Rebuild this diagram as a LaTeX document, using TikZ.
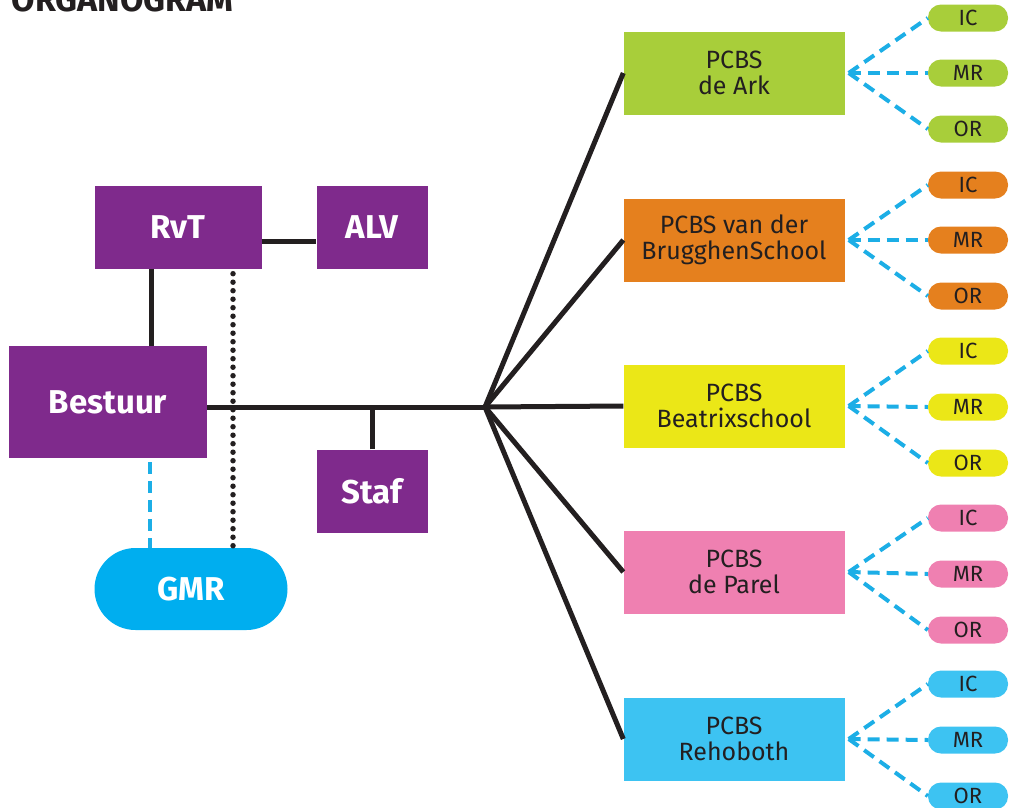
\documentclass[tikz,border=0pt]{standalone}
\usepackage{fontspec}
\setmainfont{Fira Sans}

\definecolor{orgpurple}{HTML}{7F2A8C}
\definecolor{gmrblue}{HTML}{00AEEF}
\definecolor{arkgreen}{HTML}{A8CE3A}
\definecolor{brugorange}{HTML}{E5801E}
\definecolor{beatyellow}{HTML}{EBE717}
\definecolor{parelpink}{HTML}{EF80B1}
\definecolor{rehoblue}{HTML}{3DC3F2}
\definecolor{linkblue}{HTML}{1CAEE6}
\definecolor{inkdark}{HTML}{231F20}

\begin{document}
\begin{tikzpicture}[x=1pt,y=-1pt,
  board/.style={fill=orgpurple,text=white,font=\fontsize{33}{35}\selectfont\bfseries,
    minimum width=111pt,minimum height=83pt,inner sep=0pt},
  school/.style={minimum width=221pt,minimum height=83pt,inner sep=0pt,align=center,
    text=inkdark,font=\fontsize{25}{26}\selectfont},
  council/.style={minimum width=80pt,minimum height=27pt,inner sep=0pt,rounded corners=13pt,
    text=inkdark,font=\fontsize{22}{22}\selectfont},
  solidlink/.style={line width=5pt,inkdark},
  bluelink/.style={line width=4pt,linkblue,dash pattern=on 12pt off 7pt}]
  \useasboundingbox (0,0) rectangle (1010,807);

  \node[anchor=base west,text=inkdark,font=\fontsize{34}{34}\selectfont\bfseries] (title) at (8,11) {ORGANOGRAM};

  \node[board,minimum width=167pt] (rvt) at (178,227) {RvT};
  \node[board] (alv) at (372,227) {ALV};
  \node[board,minimum width=198pt,minimum height=112pt] (bestuur) at (108,402) {Bestuur};
  \node[board] (staf) at (372,491) {Staf};
  \node[board,fill=gmrblue,minimum width=193pt,minimum height=82pt,rounded corners=41pt] (gmr) at (191,589) {GMR};
  \coordinate (hub) at (485,407);

  \draw[solidlink] ([yshift=-14pt]rvt.east) -- ([yshift=-14pt]alv.west);
  \draw[solidlink] ([xshift=-27pt]rvt.south) -- ([xshift=-27pt]rvt.south |- bestuur.north);
  \draw[solidlink] (bestuur.east |- hub) -- (hub);
  \draw[solidlink] (staf.north) -- (staf.north |- hub);
  \draw[inkdark,line width=5.5pt,line cap=round,dash pattern=on 0pt off 8.5pt]
    ([xshift=55pt]rvt.south) ++(0,5) -- ([xshift=42pt]gmr.north);
  \draw[bluelink] ([xshift=42pt]bestuur.south) ++(0,4) -- ([xshift=-41pt]gmr.north);

  \node[school,fill=arkgreen] (ark) at (734,73) {PCBS\\de Ark};
  \node[school,fill=brugorange] (brug) at (734,240) {PCBS van der\\BrugghenSchool};
  \node[school,fill=beatyellow] (beat) at (734,406) {PCBS\\Beatrixschool};
  \node[school,fill=parelpink] (parel) at (734,572) {PCBS\\de Parel};
  \node[school,fill=rehoblue] (reho) at (734,739) {PCBS\\Rehoboth};
  \draw[solidlink] (hub) -- (ark.west);
  \draw[solidlink] (hub) -- (brug.west);
  \draw[solidlink] (hub) -- (beat.west);
  \draw[solidlink] (hub) -- (parel.west);
  \draw[solidlink] (hub) -- (reho.west);

  % IC / MR / OR per school
  \node[council,fill=arkgreen] (ark-ic) at (968,18) {IC};
  \node[council,fill=arkgreen] (ark-mr) at (968,73) {MR};
  \node[council,fill=arkgreen] (ark-or) at (968,129) {OR};
  \node[council,fill=brugorange] (brug-ic) at (968,185) {IC};
  \node[council,fill=brugorange] (brug-mr) at (968,240) {MR};
  \node[council,fill=brugorange] (brug-or) at (968,296) {OR};
  \node[council,fill=beatyellow] (beat-ic) at (968,351) {IC};
  \node[council,fill=beatyellow] (beat-mr) at (968,407) {MR};
  \node[council,fill=beatyellow] (beat-or) at (968,463) {OR};
  \node[council,fill=parelpink] (parel-ic) at (968,518) {IC};
  \node[council,fill=parelpink] (parel-mr) at (968,574) {MR};
  \node[council,fill=parelpink] (parel-or) at (968,630) {OR};
  \node[council,fill=rehoblue] (reho-ic) at (968,684) {IC};
  \node[council,fill=rehoblue] (reho-mr) at (968,740) {MR};
  \node[council,fill=rehoblue] (reho-or) at (968,796) {OR};

  \draw[bluelink] ([xshift=4pt]ark.east) -- (ark-ic.west);
  \draw[bluelink] ([xshift=4pt]ark.east) -- (ark-mr.west);
  \draw[bluelink] ([xshift=4pt]ark.east) -- (ark-or.west);
  \draw[bluelink] ([xshift=4pt]brug.east) -- (brug-ic.west);
  \draw[bluelink] ([xshift=4pt]brug.east) -- (brug-mr.west);
  \draw[bluelink] ([xshift=4pt]brug.east) -- (brug-or.west);
  \draw[bluelink] ([xshift=4pt]beat.east) -- (beat-ic.west);
  \draw[bluelink] ([xshift=4pt]beat.east) -- (beat-mr.west);
  \draw[bluelink] ([xshift=4pt]beat.east) -- (beat-or.west);
  \draw[bluelink] ([xshift=4pt]parel.east) -- (parel-ic.west);
  \draw[bluelink] ([xshift=4pt]parel.east) -- (parel-mr.west);
  \draw[bluelink] ([xshift=4pt]parel.east) -- (parel-or.west);
  \draw[bluelink] ([xshift=4pt]reho.east) -- (reho-ic.west);
  \draw[bluelink] ([xshift=4pt]reho.east) -- (reho-mr.west);
  \draw[bluelink] ([xshift=4pt]reho.east) -- (reho-or.west);
\end{tikzpicture}
\end{document}
